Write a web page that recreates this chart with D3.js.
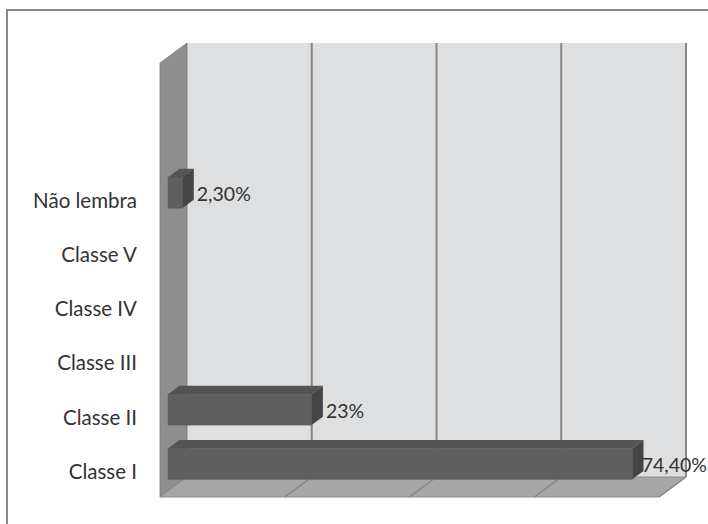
<!DOCTYPE html>
<html>
<head>
<meta charset="utf-8">
<script src="https://cdn.jsdelivr.net/npm/d3@7/dist/d3.min.js"></script>
<style>
  html, body { margin: 0; padding: 0; background: #ffffff; }
  svg { display: block; }
  text { font-family: Lato, "Open Sans", sans-serif; fill: #333333; }
</style>
</head>
<body>
<div id="chart"></div>
<script>
// Categories from the bottom of the axis upward
const categories = ["Classe I", "Classe II", "Classe III", "Classe IV", "Classe V", "Não lembra"];
const values = [74.4, 23, 0, 0, 0, 2.3];
const valueLabels = ["74,40%", "23%", "", "", "", "2,30%"];
const valueTicks = [0, 20, 40, 60, 80];

const W = 708, H = 524;
const svg = d3.select("#chart").append("svg").attr("width", W).attr("height", H);

// Plot box (front plane) and the 3D depth offset
const left = 160, right = 659, floorY = 497, topY = 63;
const depthX = 27, depthY = -20;
const slots = 8; // the axis leaves room for two empty slots above the last category
const step = (floorY - topY) / slots;

const x = d3.scaleLinear().domain([0, 80]).range([left, right]);
const y = d3.scaleBand()
  .domain(categories)
  .range([floorY, floorY - categories.length * step])
  .paddingInner(0.43)
  .paddingOuter(0.215);

// project a point at a given depth (0 = front, 1 = back)
const P = (px, py, z) => [px + depthX * z, py + depthY * z];
const poly = pts => pts.map(p => p.join(",")).join(" ");

// outer frame
svg.append("polyline")
  .attr("points", poly([[7, H], [7, 10], [W, 10]]))
  .attr("fill", "none").attr("stroke", "#8a8a8a").attr("stroke-width", 2);

// back wall
svg.append("polygon")
  .attr("points", poly([P(left, topY, 1), P(right, topY, 1), P(right, floorY, 1), P(left, floorY, 1)]))
  .attr("fill", "#dedfe1");

// side wall
svg.append("polygon")
  .attr("points", poly([P(left, topY, 0), P(left, topY, 1), P(left, floorY, 1), P(left, floorY, 0)]))
  .attr("fill", "#8e8e8e").attr("stroke", "#7a7a7a").attr("stroke-width", 0.8);

// floor
svg.append("polygon")
  .attr("points", poly([P(left, floorY, 0), P(left, floorY, 1), P(right, floorY, 1), P(right, floorY, 0)]))
  .attr("fill", "#a6a6a6").attr("stroke", "#8a8a8a").attr("stroke-width", 1);

// gridlines on the back wall
svg.append("g").selectAll("line")
  .data(valueTicks.filter(t => t > 0))
  .join("line")
  .attr("x1", d => P(x(d), topY, 1)[0]).attr("y1", P(0, topY, 1)[1])
  .attr("x2", d => P(x(d), floorY, 1)[0]).attr("y2", P(0, floorY, 1)[1])
  .attr("stroke", "#858585").attr("stroke-width", 2);

// tick lines across the floor
svg.append("g").selectAll("line")
  .data(valueTicks.filter(t => t > 0))
  .join("line")
  .attr("x1", d => P(x(d), floorY, 0)[0]).attr("y1", P(0, floorY, 0)[1])
  .attr("x2", d => P(x(d), floorY, 1)[0]).attr("y2", P(0, floorY, 1)[1])
  .attr("stroke", "#858585").attr("stroke-width", 1.3);

// bars
const zf = 0.3, zb = 0.72;
const rows = categories.map((c, i) => ({ c, v: values[i], label: valueLabels[i] }));
const bars = svg.append("g").selectAll("g")
  .data(rows.filter(d => d.v > 0))
  .join("g");

bars.append("polygon") // top face
  .attr("points", d => {
    const t = y(d.c);
    return poly([P(x(0), t, zf), P(x(0), t, zb), P(x(d.v), t, zb), P(x(d.v), t, zf)]);
  })
  .attr("fill", "#545454");

bars.append("polygon") // end face
  .attr("points", d => {
    const t = y(d.c), b = t + y.bandwidth();
    return poly([P(x(d.v), t, zf), P(x(d.v), t, zb), P(x(d.v), b, zb), P(x(d.v), b, zf)]);
  })
  .attr("fill", "#454545");

bars.append("polygon") // front face
  .attr("points", d => {
    const t = y(d.c), b = t + y.bandwidth();
    return poly([P(x(0), t, zf), P(x(d.v), t, zf), P(x(d.v), b, zf), P(x(0), b, zf)]);
  })
  .attr("fill", "#5f5f5f").attr("stroke", "#555555").attr("stroke-width", 0.6);

// value labels, kept inside the frame's right edge
bars.append("text")
  .attr("y", d => P(0, y(d.c) + y.bandwidth() / 2, zf)[1] + 1)
  .attr("dominant-baseline", "central")
  .attr("font-size", 19.5)
  .text(d => d.label)
  .attr("x", function(d) {
    const wanted = P(x(d.v), 0, zb)[0] + 3;
    return Math.min(wanted, W - 1 - this.getComputedTextLength());
  });

// category labels
svg.append("g").selectAll("text")
  .data(categories)
  .join("text")
  .attr("x", 137)
  .attr("y", d => y(d) + y.bandwidth() / 2 + 1)
  .attr("text-anchor", "end")
  .attr("dominant-baseline", "central")
  .attr("font-size", 20.5)
  .text(d => d);
</script>
</body>
</html>
